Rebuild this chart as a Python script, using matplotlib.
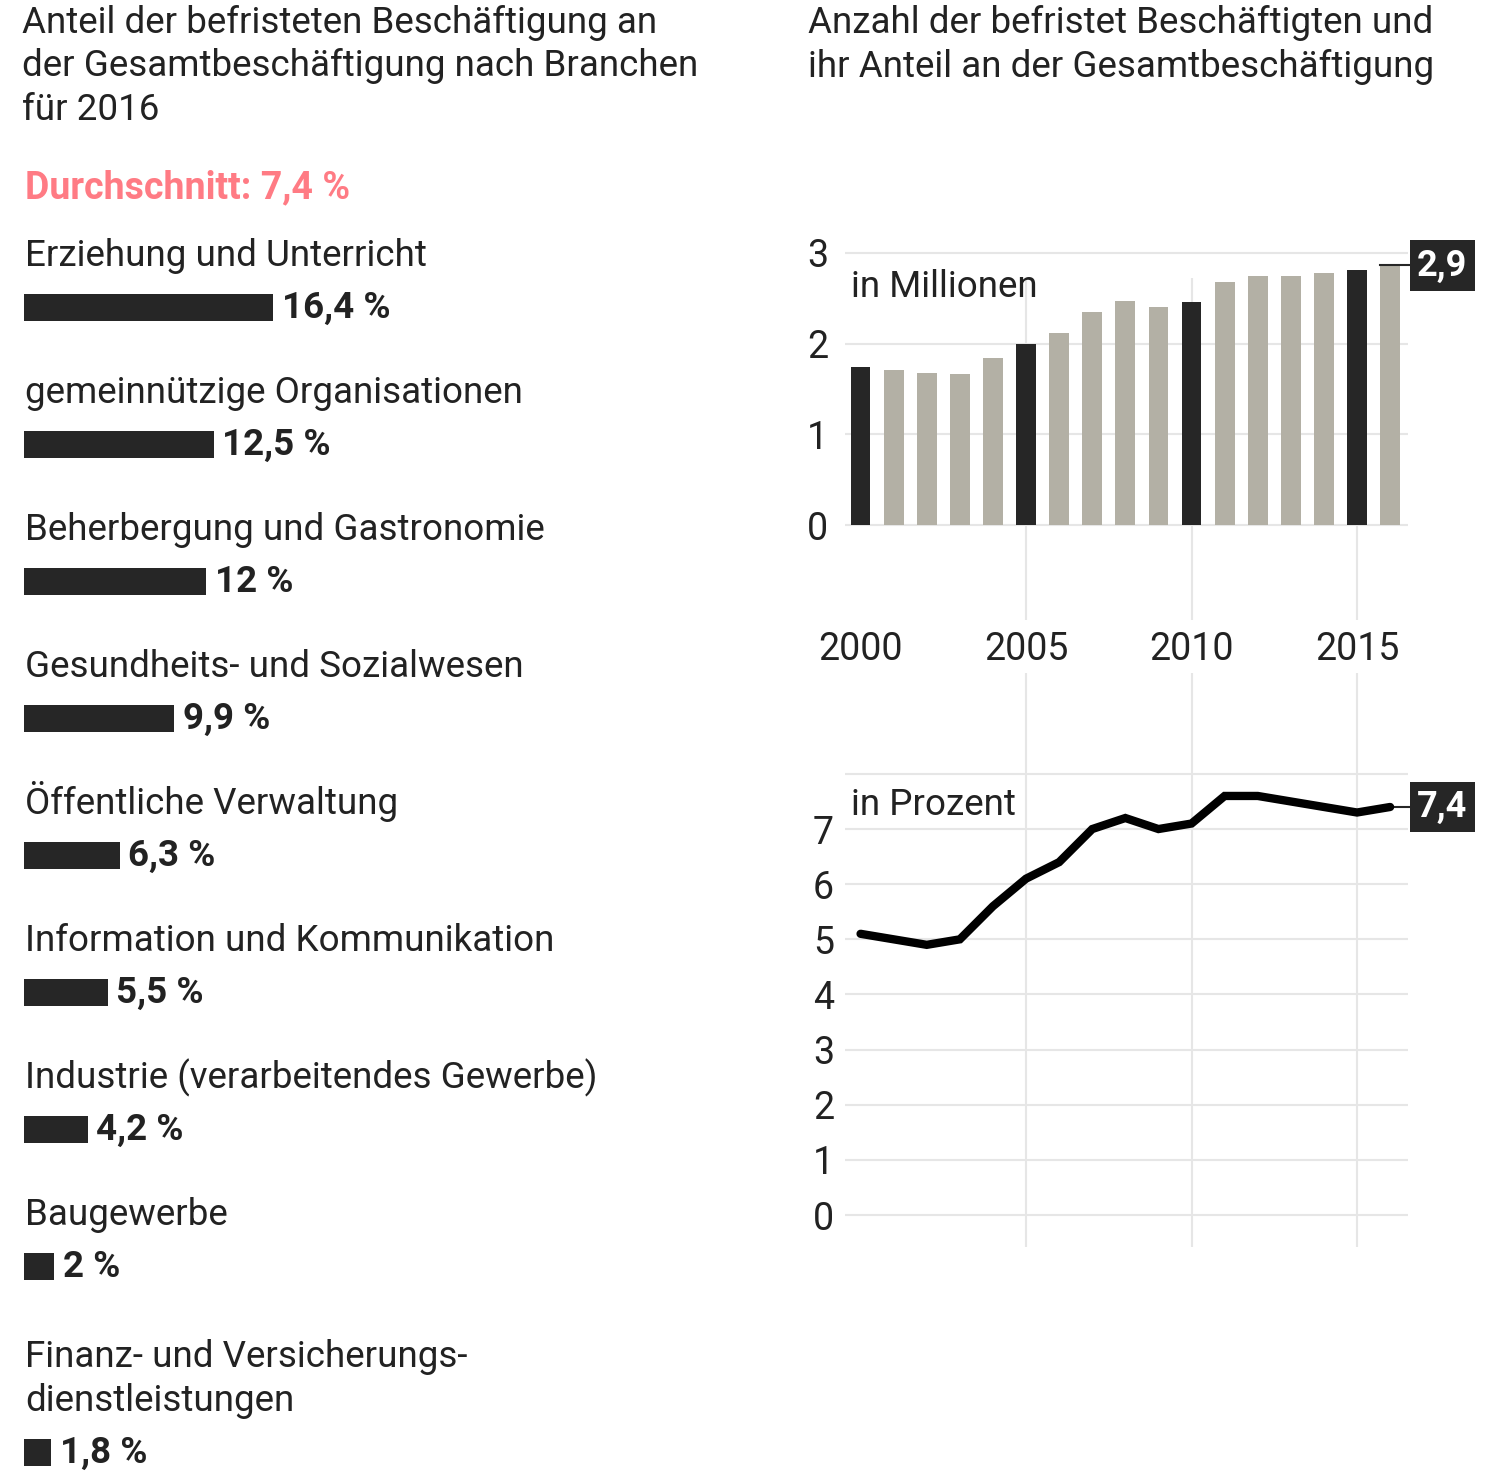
import matplotlib

matplotlib.use('Agg')
import matplotlib.pyplot as plt
import numpy as np

plt.rcParams['font.family'] = ['Roboto', 'DejaVu Sans']

# Daten: Anteil befristeter Beschaeftigung nach Branchen 2016
branchen = [
    "Erziehung und Unterricht",
    "gemeinnützige Organisationen",
    "Beherbergung und Gastronomie",
    "Gesundheits- und Sozialwesen",
    "Öffentliche Verwaltung",
    "Information und Kommunikation",
    "Industrie (verarbeitendes Gewerbe)",
    "Baugewerbe",
    "Finanz- und Versicherungs-\ndienstleistungen",
]
anteile = [16.4, 12.5, 12.0, 9.9, 6.3, 5.5, 4.2, 2.0, 1.8]
anteil_labels = ["16,4 %", "12,5 %", "12 %", "9,9 %", "6,3 %", "5,5 %", "4,2 %", "2 %", "1,8 %"]

# Daten: befristet Beschaeftigte (Millionen) und Anteil (Prozent)
jahre = list(range(2000, 2017))
millionen = [1.74, 1.71, 1.67, 1.66, 1.84, 1.99, 2.12, 2.35, 2.47, 2.40, 2.46,
             2.68, 2.74, 2.74, 2.78, 2.81, 2.86]
prozent = [5.1, 5.0, 4.9, 5.0, 5.6, 6.1, 6.4, 7.0, 7.2, 7.0, 7.1,
           7.6, 7.6, 7.5, 7.4, 7.3, 7.4]

DUNKEL = '#262626'
GRAU = '#b3b0a5'
GITTER = '#e6e6e6'
TEXT = '#222222'
ROSA = '#ff7b84'

GROSS = 26.5     # Schriftgroesse Fliesstext
TICKS = 27
ZEILE = 1.27     # Zeilenabstand ~43 px

W, H = 1500, 1475
fig = plt.figure(figsize=(W / 100, H / 100), dpi=100)


def px_box(x0, y0, x1, y1):
    # Pixelkoordinaten (oben links) -> Figure-Anteile
    return [x0 / W, 1 - y1 / H, (x1 - x0) / W, (y1 - y0) / H]


# Titel (Grundlinie der letzten Zeile)
fig.text(22 / W, 1 - 120 / H,
         "Anteil der befristeten Beschäftigung an\nder Gesamtbeschäftigung nach Branchen\nfür 2016",
         fontsize=GROSS, color=TEXT, va='baseline', ha='left', linespacing=ZEILE)
fig.text(808 / W, 1 - 77 / H,
         "Anzahl der befristet Beschäftigten und\nihr Anteil an der Gesamtbeschäftigung",
         fontsize=GROSS, color=TEXT, va='baseline', ha='left', linespacing=ZEILE)
fig.text(25 / W, 1 - 198 / H, "Durchschnitt: 7,4 %", fontsize=27, color=ROSA,
         fontweight='bold', va='baseline', ha='left')

# ---- Linkes Panel: horizontale Balken ----
px_pro_prozent = 15.2
ax_l = fig.add_axes(px_box(0, 0, 780, H))
ax_l.set_xlim(-24 / px_pro_prozent, (780 - 24) / px_pro_prozent)
ax_l.set_ylim(H, 0)
ax_l.axis('off')

abstand = 137
pos = []
y = 307
for i, name in enumerate(branchen):
    if i > 0:
        y += abstand
    y += name.count('\n') * 49
    pos.append(y)

ax_l.barh(pos, anteile, height=27, left=0, color=DUNKEL)
for p, v, lab, name in zip(pos, anteile, anteil_labels, branchen):
    ax_l.text(0.05, p - 41, name, fontsize=GROSS, color=TEXT,
              va='baseline', ha='left', linespacing=ZEILE)
    ax_l.text(v + 0.55, p + 1, lab, fontsize=GROSS, color=TEXT, fontweight='bold',
              va='center', ha='left')

# ---- Rechts oben: Balken in Millionen ----
x_links, x_rechts = 1999.53, 2016.54
ax_b = fig.add_axes(px_box(845, 240, 1408, 625))
ax_b.set_xlim(x_links, x_rechts)
ax_b.set_ylim(-1.10, 3.14)
farben = [DUNKEL if j % 5 == 0 else GRAU for j in jahre]
ax_b.bar(jahre, millionen, width=0.6, color=farben, zorder=3)
ax_b.vlines([2005, 2010, 2015], -1.05, 2.72, color=GITTER, lw=1.5, zorder=1)
for yv in [0, 1, 2, 3]:
    ax_b.axhline(yv, color=GITTER, lw=1.5, zorder=1)
ax_b.set_yticks([0, 1, 2, 3])
ax_b.set_yticklabels(['0', '1', '2', '3'])
ax_b.set_xticks([2000, 2005, 2010, 2015])
ax_b.tick_params(axis='both', length=0, labelsize=TICKS, colors=TEXT)
ax_b.tick_params(axis='y', pad=12)
ax_b.tick_params(axis='x', pad=4)
for s in ax_b.spines.values():
    s.set_visible(False)
ax_b.text(2000 - 0.3, 2.62, "in Millionen", fontsize=GROSS, color=TEXT,
          va='center', ha='left', zorder=4)
ax_b.plot([jahre[-1] - 0.3, jahre[-1] + 0.62], [millionen[-1], millionen[-1]],
          color=DUNKEL, lw=1.5, clip_on=False, zorder=4)
ax_b.annotate("2,9", xy=(jahre[-1], millionen[-1]), xytext=(37.5, 0),
              textcoords='offset points', ha='center', va='center',
              fontsize=26, fontweight='bold', color='white', annotation_clip=False,
              bbox=dict(boxstyle='square,pad=0.2', fc=DUNKEL, ec='none'))

# ---- Rechts unten: Linie in Prozent ----
ax_p = fig.add_axes(px_box(845, 673, 1408, 1247))
ax_p.set_xlim(x_links, x_rechts)
ax_p.set_ylim(-0.58, 9.83)
for xv in [2005, 2010, 2015]:
    ax_p.axvline(xv, color=GITTER, lw=1.5, zorder=1)
for yv in range(9):
    ax_p.axhline(yv, color=GITTER, lw=1.5, zorder=1)
ax_p.plot(jahre, prozent, color='black', lw=6, solid_capstyle='round',
          solid_joinstyle='miter', zorder=3)
ax_p.set_yticks(range(8))
ax_p.set_yticklabels([str(t) for t in range(8)])
ax_p.set_xticks([])
ax_p.tick_params(axis='y', length=0, labelsize=TICKS, colors=TEXT, pad=8)
for s in ax_p.spines.values():
    s.set_visible(False)
ax_p.text(2000 - 0.3, 7.44, "in Prozent", fontsize=GROSS, color=TEXT,
          va='center', ha='left', zorder=4)
ax_p.plot([jahre[-1], jahre[-1] + 0.62], [prozent[-1], prozent[-1]],
          color=DUNKEL, lw=1.5, clip_on=False, zorder=2)
ax_p.annotate("7,4", xy=(jahre[-1], prozent[-1]), xytext=(37.5, 0),
              textcoords='offset points', ha='center', va='center',
              fontsize=26, fontweight='bold', color='white', annotation_clip=False,
              bbox=dict(boxstyle='square,pad=0.2', fc=DUNKEL, ec='none'))

fig.savefig('out.png', dpi=100)
plt.close(fig)
